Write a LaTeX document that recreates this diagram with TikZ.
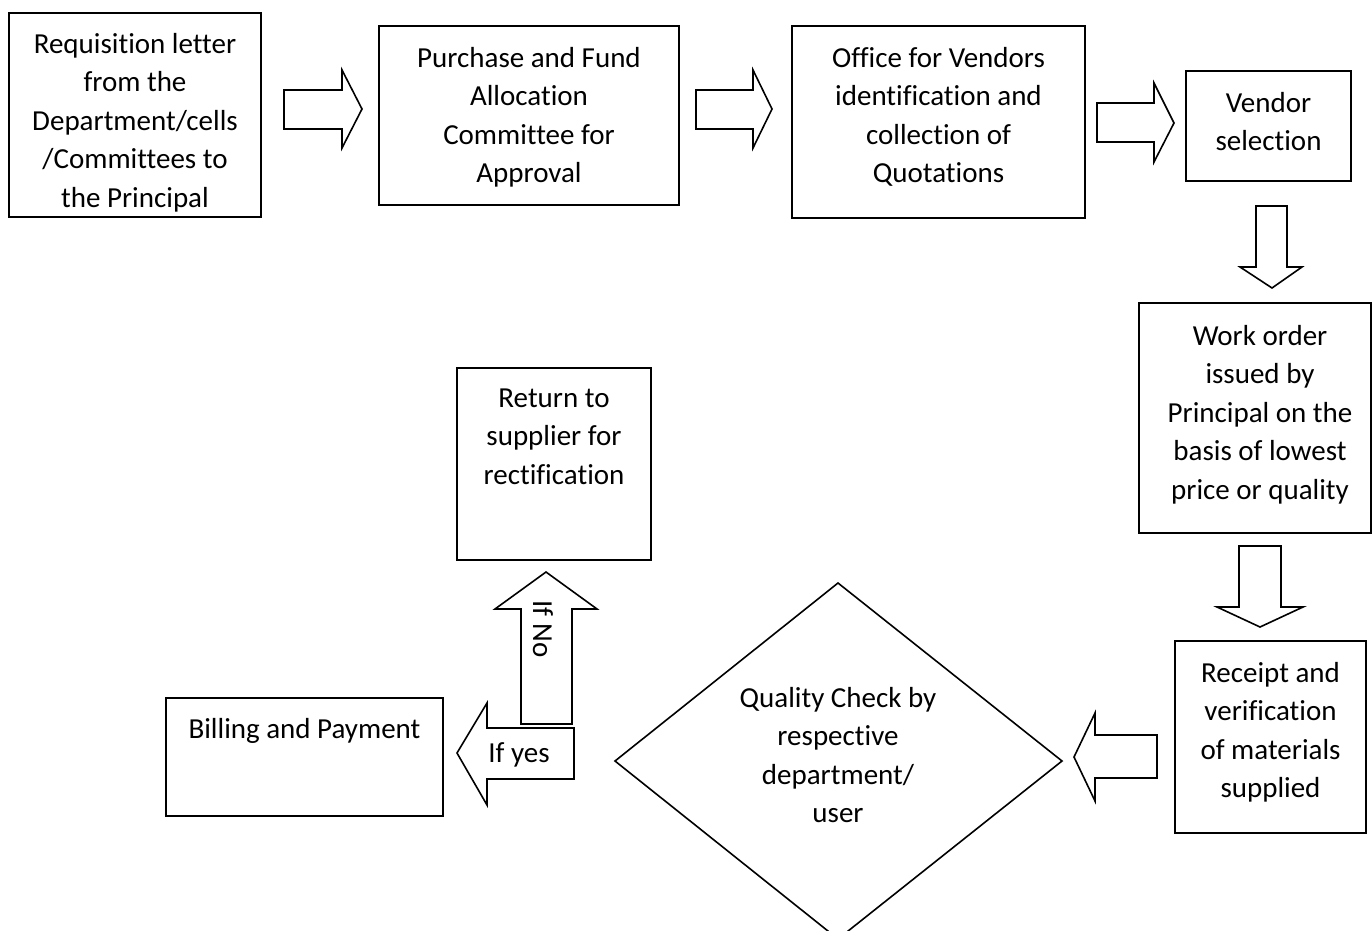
\documentclass[tikz,border=0pt]{standalone}
\usepackage{fontspec}
\setmainfont{Carlito}[Ligatures={CommonOff}]
\begin{document}
\begin{tikzpicture}[x=1pt,y=-1pt,line join=miter,
  box/.style={draw, line width=1.6pt, inner sep=0pt},
  txt/.style={font=\fontsize{29}{38.5}\selectfont, align=center, inner sep=0pt, anchor=base},
  barrow/.style={draw, line width=1.6pt, fill=white}]
\useasboundingbox[fill=white] (0,0) rectangle (1372,930);
% boxes
\node[box, minimum width=252pt, minimum height=204pt] (b1) at (135,115) {};
\node[box, minimum width=300pt, minimum height=179pt] (b2) at (529,115.5) {};
\node[box, minimum width=293pt, minimum height=192pt] (b3) at (938.5,122) {};
\node[box, minimum width=165pt, minimum height=110pt] (b4) at (1268.5,126) {};
\node[box, minimum width=232pt, minimum height=230pt] (b5) at (1255,418) {};
\node[box, minimum width=191pt, minimum height=192pt] (b6) at (1270.5,737) {};
\node[box, minimum width=194pt, minimum height=192pt] (ret) at (554,464) {};
\node[box, minimum width=277pt, minimum height=118pt] (bill) at (304.5,757) {};
% diamond
\coordinate (dT) at (838,583);
\coordinate (dR) at (1062,761);
\coordinate (dB) at (838,939);
\coordinate (dL) at (615,761);
\draw[line width=1.6pt] (dT) -- (dR) -- (dB) -- (dL) -- cycle;
% texts (anchored at the baseline of the last line)
\node[txt] (t1) at (135,207) {Requisition letter\\from the\\Department/cells\\/Committees to\\the Principal};
\node[txt] (t2) at (529,182.5) {Purchase and Fund\\Allocation\\Committee for\\Approval};
\node[txt] (t3) at (938.5,182.5) {Office for Vendors\\identification and\\collection of\\Quotations};
\node[txt] (t4) at (1268.5,150.5) {Vendor\\selection};
\node[txt] (t5) at (1260,499) {Work order\\issued by\\Principal on the\\basis of lowest\\price or quality};
\node[txt] (t6) at (1270.5,797.5) {Receipt and\\verification\\of materials\\supplied};
\node[txt] (t7) at (554,484) {Return to\\supplier for\\rectification};
\node[txt] (t8) at (304.5,738) {Billing and Payment};
\node[txt] (t9) at (838,822.5) {Quality Check by\\respective\\department/\\user};
% block arrows
\draw[barrow] (284,90) -- (342,90) -- (342,70) -- (362,109) -- (342,148) -- (342,129) -- (284,129) -- cycle;
\draw[barrow] (696,90) -- (753,90) -- (753,70) -- (772,109) -- (753,148) -- (753,129) -- (696,129) -- cycle;
\draw[barrow] (1097,103) -- (1154,103) -- (1154,83) -- (1174,123) -- (1154,162) -- (1154,142) -- (1097,142) -- cycle;
\draw[barrow] (1256,206) -- (1287,206) -- (1287,267) -- (1302,267) -- (1272,288) -- (1240,267) -- (1256,267) -- cycle;
\draw[barrow] (1239,546) -- (1281,546) -- (1281,607) -- (1303,607) -- (1260,627) -- (1217,607) -- (1239,607) -- cycle;
\draw[barrow] (1157,735) -- (1095,735) -- (1095,713) -- (1074,757) -- (1095,801) -- (1095,778) -- (1157,778) -- cycle;
\draw[barrow] (521,724) -- (521,609) -- (495,609) -- (546,572) -- (597,609) -- (572,609) -- (572,724) -- cycle;
\draw[barrow] (574,728) -- (487,728) -- (487,703) -- (457,753) -- (487,805) -- (487,779) -- (574,779) -- cycle;
\node[txt] (ifno) at (533,629) [rotate=-90] {If No};
\node[txt] (ifyes) at (519,762) {If yes};
\end{tikzpicture}
\end{document}
